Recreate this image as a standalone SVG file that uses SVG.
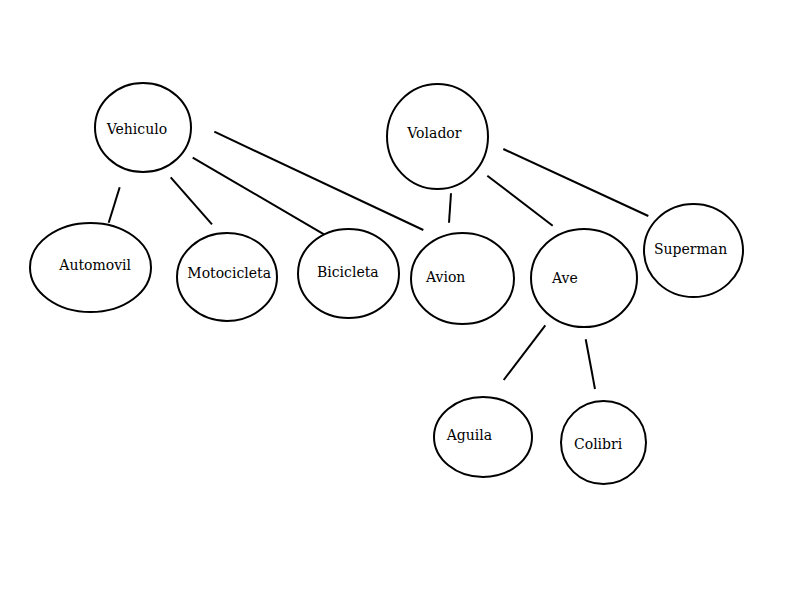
<svg xmlns="http://www.w3.org/2000/svg" width="800" height="600" viewBox="0 0 800 600">
<style>
.n{fill:#fff;stroke:#000;stroke-width:2}
.t{font-family:"DejaVu Serif","Liberation Serif",serif;font-size:14px;fill:#000}
.c line{stroke:#000;stroke-width:2}
</style>
<rect width="800" height="600" fill="#fff"/>
<g class="c" id="connectors">
<line x1="119.7" y1="187.3" x2="108.7" y2="222.7"/>
<line x1="170.7" y1="177.3" x2="212" y2="224.3"/>
<line x1="192.7" y1="157.7" x2="324" y2="234.3"/>
<line x1="214.3" y1="131.7" x2="423.3" y2="230"/>
<line x1="451" y1="193.3" x2="449" y2="222.7"/>
<line x1="487.3" y1="175.7" x2="552.7" y2="225.7"/>
<line x1="503.3" y1="149" x2="648.3" y2="216"/>
<line x1="545.3" y1="325.3" x2="503.7" y2="380"/>
<line x1="585.7" y1="339.3" x2="595" y2="389"/>
</g>
<g id="vehiculo"><ellipse class="n" cx="143" cy="127.5" rx="48" ry="44.5"/><text class="t" x="106.7" y="134">Vehiculo</text></g>
<g id="automovil"><ellipse class="n" cx="90.5" cy="267.5" rx="60.5" ry="44.5"/><text class="t" x="59.3" y="270">Automovil</text></g>
<g id="motocicleta"><ellipse class="n" cx="227" cy="277" rx="50" ry="44"/><text class="t" x="187.3" y="278">Motocicleta</text></g>
<g id="bicicleta"><ellipse class="n" cx="348.5" cy="273.5" rx="50.5" ry="44.5"/><text class="t" x="317" y="277">Bicicleta</text></g>
<g id="volador"><ellipse class="n" cx="437.5" cy="136.5" rx="50.5" ry="52.5"/><text class="t" x="407.3" y="138">Volador</text></g>
<g id="avion"><ellipse class="n" cx="462.5" cy="278.5" rx="51.5" ry="45.5"/><text class="t" x="426" y="282">Avion</text></g>
<g id="ave"><ellipse class="n" cx="584" cy="278" rx="53" ry="49"/><text class="t" x="552" y="283">Ave</text></g>
<g id="superman"><ellipse class="n" cx="693.5" cy="250.5" rx="49.5" ry="46.5"/><text class="t" x="654" y="254">Superman</text></g>
<g id="aguila"><ellipse class="n" cx="483" cy="437" rx="49" ry="40"/><text class="t" x="446.7" y="439.5">Aguila</text></g>
<g id="colibri"><ellipse class="n" cx="603.5" cy="442.5" rx="42.5" ry="41.5"/><text class="t" x="574" y="449">Colibri</text></g>
</svg>
